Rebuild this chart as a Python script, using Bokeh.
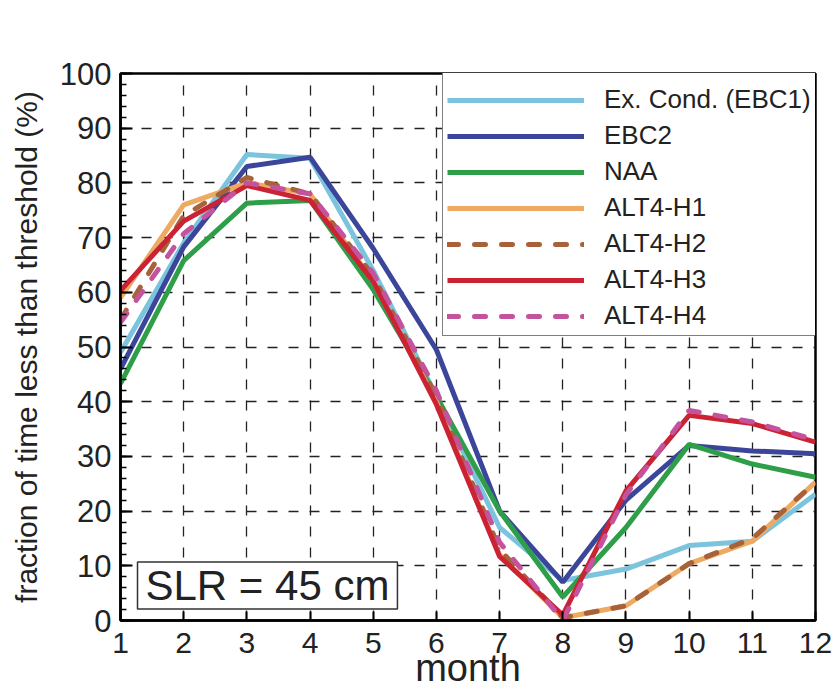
from bokeh.plotting import figure
from bokeh.models import (Legend, LegendItem, Label, Range1d, FixedTicker,
                          SingleIntervalTicker)
from bokeh.embed import file_html
from bokeh.resources import INLINE

months = [1, 2, 3, 4, 5, 6, 7, 8, 9, 10, 11, 12]

ebc1 = [49, 69, 85.2, 84.5, 64, 41, 17, 7.3, 9.4, 13.7, 14.5, 23.1]
ebc2 = [46, 68.3, 83, 84.7, 68, 49.5, 20, 7, 22, 32, 31, 30.5]
naa = [43.3, 65.8, 76.3, 76.8, 60.5, 41, 20, 4.3, 17, 32.2, 28.6, 26.2]
alt4_h1 = [59, 76, 80, 78, 62, 40, 12, 0.5, 2.7, 10.4, 14.5, 25.3]
alt4_h2 = [55, 74, 81, 78, 63, 41, 13, 0.5, 2.7, 10.4, 15, 25.3]
alt4_h3 = [60.3, 73, 79.5, 76.8, 62, 39.5, 11.7, 1.0, 23.7, 37.5, 36, 32.6]
alt4_h4 = [54.5, 70.7, 80, 78, 63.5, 42, 14.3, 0, 23, 38.4, 36.3, 33]

series_names = ["Ex. Cond. (EBC1)", "EBC2", "NAA", "ALT4-H1", "ALT4-H2",
                "ALT4-H3", "ALT4-H4"]
series_values = [ebc1, ebc2, naa, alt4_h1, alt4_h2, alt4_h3, alt4_h4]
series_colors = ["#7CC3DE", "#3B4599", "#2E9E48", "#EEAA62", "#A8623A",
                 "#CB2334", "#C4529C"]
series_dashed = [False, False, False, False, True, False, True]

y_ticks = [0, 10, 20, 30, 40, 50, 60, 70, 80, 90, 100]

FONT = "Liberation Sans"

p = figure(width=840, height=691, x_range=Range1d(1, 12), y_range=Range1d(0, 100),
           output_backend="svg", toolbar_location=None,
           min_border_left=120, min_border_right=25, min_border_top=73,
           min_border_bottom=71)
p.background_fill_color = "white"
p.border_fill_color = "white"
p.outline_line_color = "black"
p.outline_line_width = 2.5
p.outline_line_alpha = 1.0

# axes
p.xaxis.ticker = FixedTicker(ticks=months)
p.yaxis.ticker = SingleIntervalTicker(interval=10, num_minor_ticks=5)
for ax in (p.xaxis, p.yaxis):
    ax.axis_line_width = 2.5
    ax.axis_line_color = "black"
    ax.major_tick_line_color = "black"
    ax.major_tick_line_width = 2
    ax.major_tick_out = 0
    ax.minor_tick_out = 0
    ax.major_label_text_font = FONT
    ax.major_label_text_color = "#222222"
    ax.axis_label_text_font = FONT
    ax.axis_label_text_font_style = "normal"
    ax.axis_label_text_color = "#222222"

p.xaxis.major_tick_in = 9
p.xaxis.minor_tick_in = 0
p.xaxis.major_label_text_font_size = "30px"
p.xaxis.major_label_standoff = 12
p.xaxis.axis_label = "month"
p.xaxis.axis_label_text_font_size = "38px"
p.xaxis.axis_label_standoff = -9

p.yaxis.major_tick_in = 12
p.yaxis.minor_tick_in = 6
p.yaxis.minor_tick_line_color = "black"
p.yaxis.minor_tick_line_width = 1.5
p.yaxis.major_label_text_font_size = "31px"
p.yaxis.major_label_standoff = 9
p.yaxis.axis_label = "fraction of time less than threshold (%)"
p.yaxis.axis_label_text_font_size = "30px"
p.yaxis.axis_label_standoff = 14

# grid
p.xgrid.ticker = FixedTicker(ticks=months)
p.ygrid.ticker = FixedTicker(ticks=y_ticks)
for g in (p.xgrid, p.ygrid):
    g.grid_line_color = "#222222"
    g.grid_line_width = 1.3
    g.grid_line_dash = "10 11"
    g.grid_line_alpha = 1.0

items = []
for name, vals, col, dashed in zip(series_names, series_values, series_colors,
                                   series_dashed):
    if dashed:
        r = p.line(months, vals, line_color=col, line_width=5,
                   line_dash="11 16", line_cap="round")
    else:
        r = p.line(months, vals, line_color=col, line_width=5)
    items.append(LegendItem(label=name, renderers=[r]))

legend = Legend(items=items, location=(322, 284),
                title=" ", title_text_font_size="20px", title_standoff=0,
                padding=4, spacing=5, margin=0,
                glyph_width=137, glyph_height=30, label_height=30,
                label_standoff=20, label_width=300,
                label_text_font=FONT, label_text_font_size="26px",
                label_text_color="#222222",
                border_line_color="black", border_line_width=1.2,
                background_fill_color="white", background_fill_alpha=1.0)
p.add_layout(legend)

slr = Label(x=17, y=35, x_units="screen", y_units="screen", text="SLR = 45 cm",
            text_font=FONT, text_font_size="42px", text_color="#222222",
            text_align="left", text_baseline="middle",
            border_line_color="#333333", border_line_width=1.5,
            background_fill_color="white", background_fill_alpha=1.0,
            padding=(8, 0))
p.add_layout(slr)

open("out.html", "w").write(file_html(p, INLINE))
